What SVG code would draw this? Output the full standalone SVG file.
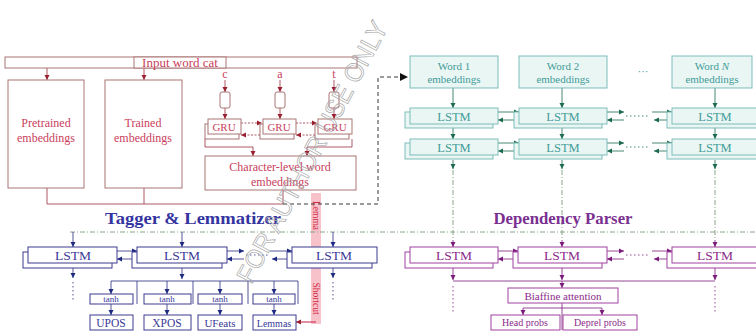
<svg xmlns="http://www.w3.org/2000/svg" width="756" height="333" viewBox="0 0 756 333">
<defs>
<marker id="aR" markerWidth="6" markerHeight="6" refX="5" refY="3" orient="auto" markerUnits="userSpaceOnUse"><path d="M0,0.5 L5,3 L0,5.5 z" fill="#9a2030"/></marker>
<marker id="aT" markerWidth="6" markerHeight="6" refX="5" refY="3" orient="auto" markerUnits="userSpaceOnUse"><path d="M0,0.5 L5,3 L0,5.5 z" fill="#1d6b4f"/></marker>
<marker id="aB" markerWidth="6" markerHeight="6" refX="5" refY="3" orient="auto" markerUnits="userSpaceOnUse"><path d="M0,0.5 L5,3 L0,5.5 z" fill="#1e2a80"/></marker>
<marker id="aP" markerWidth="6" markerHeight="6" refX="5" refY="3" orient="auto" markerUnits="userSpaceOnUse"><path d="M0,0.5 L5,3 L0,5.5 z" fill="#7a1a7a"/></marker>
<marker id="aK" markerWidth="9" markerHeight="8" refX="8" refY="4" orient="auto" markerUnits="userSpaceOnUse"><path d="M0,0 L8,4 L0,8 z" fill="#111"/></marker>
</defs>
<style>
.t{font-family:"Liberation Serif","DejaVu Serif",serif;text-anchor:middle}
.r{fill:#c9405c}
.rb{fill:#fff;stroke:#a97575;stroke-width:1}
.rl{fill:none;stroke:#9a3040;stroke-width:0.8}
.tb{fill:#eaf6f4;stroke:#7dbdb9;stroke-width:1}
.tt{fill:#3f9c98}
.tl{fill:none;stroke:#1d6b4f;stroke-width:0.8}
.dd{fill:none;stroke:#7c9c7c;stroke-width:0.9;stroke-dasharray:5 2 1 2}
.bb{fill:#fff;stroke:#3a3a90;stroke-width:1}
.bt{fill:#3a3a98}
.bl{fill:none;stroke:#2a2a80;stroke-width:0.8}
.pb{fill:#fff;stroke:#a040a0;stroke-width:1}
.pt{fill:#8a2a8a}
.pl{fill:none;stroke:#7a1a7a;stroke-width:0.8}
.dot{stroke-dasharray:1.5 2.5}
</style>
<rect width="756" height="333" fill="#fff"/>

<!-- lemma shortcut band (behind) -->
<g id="lemma-shortcut">
<rect x="311" y="193" width="10" height="131" fill="#f29aa6" opacity="0.6"/>
<text x="0" y="0" font-family="'Liberation Serif','DejaVu Serif',serif" font-size="9.5" fill="#d42a45" style="text-anchor:start;word-spacing:50px" transform="translate(313,201) rotate(90)">Lemma Shortcut</text>
</g>

<g id="connectors">
<!-- char section -->
<path class="rl" d="M47,68 V80" marker-end="url(#aR)"/>
<path class="rl" d="M144,68 V80" marker-end="url(#aR)"/>
<path class="rl" d="M225,80 V92" marker-end="url(#aR)"/>
<path class="rl" d="M280,80 V92" marker-end="url(#aR)"/>
<path class="rl" d="M334,80 V92" marker-end="url(#aR)"/>
<path class="rl" d="M225,108 V119" marker-end="url(#aR)"/>
<path class="rl" d="M280,108 V119" marker-end="url(#aR)"/>
<path class="rl" d="M334,108 V119" marker-end="url(#aR)"/>
<path class="rl" d="M241,123 H262" stroke-dasharray="2 1.5" marker-end="url(#aR)"/>
<path class="rl" d="M296,123 H317" stroke-dasharray="2 1.5" marker-end="url(#aR)"/>
<path class="rl" d="M260,135 H241" stroke-dasharray="2 1.5" marker-end="url(#aR)"/>
<path class="rl" d="M315,135 H296" stroke-dasharray="2 1.5" marker-end="url(#aR)"/>
<path class="rl" d="M205,139 V147 H253 V156" marker-end="url(#aR)"/>
<path class="rl" d="M352,139 V147 H307 V156" marker-end="url(#aR)"/>
<path class="rl" d="M47,188 V204 H283" stroke="#a97575"/>
<path class="rl" d="M144,188 V204" stroke="#a97575"/>
<path class="rl" d="M283,190 V204" stroke="#a97575"/>
<path d="M283,204 H378 V77 H408" fill="none" stroke="#222" stroke-width="0.9" stroke-dasharray="4 3" marker-end="url(#aK)"/>
<path d="M316,322 H296" fill="none" stroke="#c02040" stroke-width="1" marker-end="url(#aR)"/>

<!-- teal section -->
<path class="tl" d="M453,88 V108" marker-end="url(#aT)"/>
<path class="tl" d="M562,88 V108" marker-end="url(#aT)"/>
<path class="tl" d="M715,88 V108" marker-end="url(#aT)"/>
<path class="tl" d="M453,124 V139" marker-end="url(#aT)"/>
<path class="tl" d="M562,124 V139" marker-end="url(#aT)"/>
<path class="tl" d="M715,124 V139" marker-end="url(#aT)"/>
<path class="tl" d="M453,160 V169" marker-end="url(#aT)"/>
<path class="tl" d="M562,160 V169" marker-end="url(#aT)"/>
<path class="tl" d="M715,160 V169" marker-end="url(#aT)"/>
<path class="tl" d="M498,112 H519" marker-end="url(#aT)"/>
<path class="tl" d="M514,120 H498" marker-end="url(#aT)"/>
<path class="tl" d="M607,112 H624" marker-end="url(#aT)"/>
<path class="tl dot" d="M626,116 H650"/>
<path class="tl" d="M652,112 H672" marker-end="url(#aT)"/>
<path class="tl" d="M667,120 H654" marker-end="url(#aT)"/>
<path class="tl" d="M624,120 H607" marker-end="url(#aT)"/>
<path class="tl" d="M498,143 H519" marker-end="url(#aT)"/>
<path class="tl" d="M514,151 H498" marker-end="url(#aT)"/>
<path class="tl" d="M607,143 H624" marker-end="url(#aT)"/>
<path class="tl dot" d="M626,147 H650"/>
<path class="tl" d="M652,143 H672" marker-end="url(#aT)"/>
<path class="tl" d="M667,151 H654" marker-end="url(#aT)"/>
<path class="tl" d="M624,151 H607" marker-end="url(#aT)"/>
<path class="dd" d="M453,170 V240"/>
<path class="dd" d="M562,170 V240"/>
<path class="dd" d="M715,170 V240"/>
<path class="dd" d="M70,232 H756"/>

<!-- tagger -->
<path class="bl" d="M73,232 V247" marker-end="url(#aB)"/>
<path class="bl" d="M182,232 V247" marker-end="url(#aB)"/>
<path class="bl" d="M333,232 V247" marker-end="url(#aB)"/>
<path class="bl" d="M117,251 H137" marker-end="url(#aB)"/>
<path class="bl" d="M132,259 H117" marker-end="url(#aB)"/>
<path class="bl" d="M227,251 H244" marker-end="url(#aB)"/>
<path class="bl dot" d="M246,255 H268"/>
<path class="bl" d="M270,251 H292" marker-end="url(#aB)"/>
<path class="bl" d="M287,259 H272" marker-end="url(#aB)"/>
<path class="bl" d="M244,259 H227" marker-end="url(#aB)"/>
<path class="bl" d="M73,268 V278" marker-end="url(#aB)"/>
<path class="bl dot" d="M73,282 V302"/>
<path class="bl" d="M333,268 V278" marker-end="url(#aB)"/>
<path class="bl dot" d="M333,282 V302"/>
<path class="bl" d="M182,268 V279" marker-end="url(#aB)"/>
<path class="bl" d="M111,281 H298"/>
<path class="bl" d="M137,281 V304 M193,281 V304 M248,281 V304 M298,281 V304"/>
<path class="bl" d="M111,281 V294" marker-end="url(#aB)"/>
<path class="bl" d="M167,281 V294" marker-end="url(#aB)"/>
<path class="bl" d="M220,281 V294" marker-end="url(#aB)"/>
<path class="bl" d="M274,281 V294" marker-end="url(#aB)"/>
<path class="bl" d="M111,304 V315" marker-end="url(#aB)"/>
<path class="bl" d="M167,304 V315" marker-end="url(#aB)"/>
<path class="bl" d="M220,304 V315" marker-end="url(#aB)"/>
<path class="bl" d="M274,304 V315" marker-end="url(#aB)"/>

<!-- dependency -->
<path class="pl" d="M453,240 V247" marker-end="url(#aP)"/>
<path class="pl" d="M562,240 V247" marker-end="url(#aP)"/>
<path class="pl" d="M715,240 V247" marker-end="url(#aP)"/>
<path class="pl" d="M498,251 H518" marker-end="url(#aP)"/>
<path class="pl" d="M513,259 H498" marker-end="url(#aP)"/>
<path class="pl" d="M607,251 H624" marker-end="url(#aP)"/>
<path class="pl dot" d="M626,255 H650"/>
<path class="pl" d="M652,251 H672" marker-end="url(#aP)"/>
<path class="pl" d="M667,259 H654" marker-end="url(#aP)"/>
<path class="pl" d="M624,259 H607" marker-end="url(#aP)"/>
<path class="pl" d="M453,268 V280" marker-end="url(#aP)"/>
<path class="pl" d="M562,268 V280" marker-end="url(#aP)"/>
<path class="pl" d="M715,268 V280" marker-end="url(#aP)"/>
<path class="pl" d="M453,281 H715"/>
<path class="pl" d="M562,281 V288" marker-end="url(#aP)"/>
<path class="pl dot" d="M453,286 V312"/>
<path class="pl dot" d="M715,286 V312"/>
<path class="pl" d="M562,303 V330"/>
<path class="pl" d="M523,308 H602"/>
<path class="pl" d="M523,308 V315" marker-end="url(#aP)"/>
<path class="pl" d="M602,308 V315" marker-end="url(#aP)"/>
</g>

<!-- char-level nodes -->
<g id="input-word">
<rect class="rb" x="5" y="57" width="352" height="11"/>
<rect class="rb" x="134" y="57" width="92" height="11"/>
<text class="t r" x="180" y="66.5" font-size="13">Input word cat</text>
</g>
<g id="pretrained"><rect class="rb" x="8" y="80" width="76" height="108"/>
<text class="t r" x="46" y="127" font-size="12">Pretrained</text><text class="t r" x="46" y="142" font-size="12">embeddings</text></g>
<g id="trained"><rect class="rb" x="105" y="80" width="77" height="108"/>
<text class="t r" x="143" y="127" font-size="12">Trained</text><text class="t r" x="143" y="142" font-size="12">embeddings</text></g>
<g id="char-c"><text class="t r" x="225" y="78" font-size="12">c</text><rect class="rb" x="220" y="92" width="10" height="16" rx="2"/></g>
<g id="char-a"><text class="t r" x="280" y="78" font-size="12">a</text><rect class="rb" x="275" y="92" width="10" height="16" rx="2"/></g>
<g id="char-t"><text class="t r" x="334" y="78" font-size="12">t</text><rect class="rb" x="329" y="92" width="10" height="16" rx="2"/></g>
<g id="gru1"><rect class="rb" x="205" y="124" width="34" height="15"/><rect class="rb" x="208" y="119" width="33" height="15"/><text class="t r" x="224" y="131" font-size="11">GRU</text></g>
<g id="gru2"><rect class="rb" x="260" y="124" width="34" height="15"/><rect class="rb" x="263" y="119" width="33" height="15"/><text class="t r" x="279" y="131" font-size="11">GRU</text></g>
<g id="gru3"><rect class="rb" x="315" y="124" width="34" height="15"/><rect class="rb" x="318" y="119" width="34" height="15"/><text class="t r" x="335" y="131" font-size="11">GRU</text></g>
<g id="char-emb"><rect class="rb" x="205" y="156" width="151" height="34"/>
<text class="t r" x="280" y="171" font-size="12">Character-level word</text><text class="t r" x="280" y="186" font-size="12">embeddings</text></g>

<!-- teal nodes -->
<g id="word1"><rect class="tb" x="410" y="56" width="88" height="32"/><text class="t tt" x="454" y="70" font-size="11">Word 1</text><text class="t tt" x="454" y="83" font-size="11">embeddings</text></g>
<g id="word2"><rect class="tb" x="519" y="56" width="88" height="32"/><text class="t tt" x="563" y="70" font-size="11">Word 2</text><text class="t tt" x="563" y="83" font-size="11">embeddings</text></g>
<text class="t tt" x="643" y="75" font-size="11">···</text>
<g id="wordN"><rect class="tb" x="672" y="56" width="80" height="32"/><text class="t tt" x="712" y="70" font-size="11">Word <tspan font-style="italic">N</tspan></text><text class="t tt" x="712" y="83" font-size="11">embeddings</text></g>

<g id="t-lstm1-1"><rect class="tb" x="405" y="112" width="88" height="16"/><rect class="tb" x="410" y="108" width="88" height="16"/><text class="t tt" x="454" y="120.5" font-size="12.5">LSTM</text></g>
<g id="t-lstm1-2"><rect class="tb" x="514" y="112" width="88" height="16"/><rect class="tb" x="519" y="108" width="88" height="16"/><text class="t tt" x="563" y="120.5" font-size="12.5">LSTM</text></g>
<g id="t-lstm1-N"><rect class="tb" x="667" y="112" width="92" height="16"/><rect class="tb" x="672" y="108" width="92" height="16"/><text class="t tt" x="715" y="120.5" font-size="12.5">LSTM</text></g>
<g id="t-lstm2-1"><rect class="tb" x="405" y="143" width="88" height="16"/><rect class="tb" x="410" y="139" width="88" height="16"/><text class="t tt" x="454" y="151.5" font-size="12.5">LSTM</text></g>
<g id="t-lstm2-2"><rect class="tb" x="514" y="143" width="88" height="16"/><rect class="tb" x="519" y="139" width="88" height="16"/><text class="t tt" x="563" y="151.5" font-size="12.5">LSTM</text></g>
<g id="t-lstm2-N"><rect class="tb" x="667" y="143" width="92" height="16"/><rect class="tb" x="672" y="139" width="92" height="16"/><text class="t tt" x="715" y="151.5" font-size="12.5">LSTM</text></g>

<!-- titles -->
<text class="t" x="193" y="224" font-size="17" font-weight="bold" fill="#3434a0" textLength="176" lengthAdjust="spacingAndGlyphs">Tagger &amp; Lemmatizer</text>
<text class="t" x="563" y="224" font-size="17" font-weight="bold" fill="#7a3090" textLength="139" lengthAdjust="spacingAndGlyphs">Dependency Parser</text>

<!-- tagger nodes -->
<g id="b-lstm1"><rect class="bb" x="23" y="252" width="89" height="16"/><rect class="bb" x="28" y="247" width="89" height="16"/><text class="t bt" x="73" y="259.5" font-size="13.5">LSTM</text></g>
<g id="b-lstm2"><rect class="bb" x="132" y="252" width="90" height="16"/><rect class="bb" x="137" y="247" width="90" height="16"/><text class="t bt" x="182" y="259.5" font-size="13.5">LSTM</text></g>
<g id="b-lstm3"><rect class="bb" x="287" y="252" width="85" height="16"/><rect class="bb" x="292" y="247" width="85" height="16"/><text class="t bt" x="334" y="259.5" font-size="13.5">LSTM</text></g>
<g id="tanh1"><rect class="bb" x="90" y="294" width="43" height="10"/><text class="t bt" x="111" y="302" font-size="9">tanh</text></g>
<g id="tanh2"><rect class="bb" x="144" y="294" width="47" height="10"/><text class="t bt" x="167" y="302" font-size="9">tanh</text></g>
<g id="tanh3"><rect class="bb" x="198" y="294" width="44" height="10"/><text class="t bt" x="220" y="302" font-size="9">tanh</text></g>
<g id="tanh4"><rect class="bb" x="253" y="294" width="42" height="10"/><text class="t bt" x="274" y="302" font-size="9">tanh</text></g>
<g id="upos"><rect class="bb" x="90" y="315" width="43" height="15"/><text class="t bt" x="111" y="327" font-size="11.5">UPOS</text></g>
<g id="xpos"><rect class="bb" x="144" y="315" width="47" height="15"/><text class="t bt" x="167" y="327" font-size="11.5">XPOS</text></g>
<g id="ufeats"><rect class="bb" x="198" y="315" width="44" height="15"/><text class="t bt" x="220" y="327" font-size="11">UFeats</text></g>
<g id="lemmas"><rect class="bb" x="253" y="315" width="43" height="15"/><text class="t bt" x="274" y="327" font-size="10">Lemmas</text></g>

<!-- dependency nodes -->
<g id="p-lstm1"><rect class="pb" x="405" y="252" width="88" height="16"/><rect class="pb" x="410" y="247" width="88" height="16"/><text class="t pt" x="454" y="259.5" font-size="13.5">LSTM</text></g>
<g id="p-lstm2"><rect class="pb" x="513" y="252" width="89" height="16"/><rect class="pb" x="518" y="247" width="89" height="16"/><text class="t pt" x="562" y="259.5" font-size="13.5">LSTM</text></g>
<g id="p-lstm3"><rect class="pb" x="667" y="252" width="92" height="16"/><rect class="pb" x="672" y="247" width="92" height="16"/><text class="t pt" x="715" y="259.5" font-size="13.5">LSTM</text></g>
<g id="biaffine"><rect class="pb" x="508" y="288" width="110" height="15"/><text class="t pt" x="563" y="300" font-size="11">Biaffine attention</text></g>
<g id="head"><rect class="pb" x="491" y="315" width="69" height="15"/><text class="t pt" x="525" y="326" font-size="10">Head probs</text></g>
<g id="deprel"><rect class="pb" x="563" y="315" width="74" height="15"/><text class="t pt" x="600" y="326" font-size="10">Deprel probs</text></g>

<!-- watermark -->
<text x="0" y="0" transform="translate(320,156) rotate(-62)" style="text-anchor:middle" font-family="'Liberation Sans','DejaVu Sans',sans-serif" font-size="26" fill="none" stroke="#a8a8a8" stroke-width="0.7" textLength="292" lengthAdjust="spacingAndGlyphs">FOR AUTHOR USE ONLY</text>
</svg>
